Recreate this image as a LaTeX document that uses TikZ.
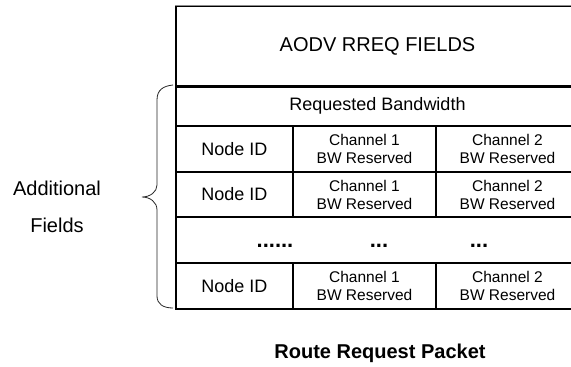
\documentclass[tikz,border=0pt]{standalone}
\usepackage{fontspec}
\setmainfont{Liberation Sans}
\begin{document}
\begin{tikzpicture}[x=1pt,y=-1pt,
  cellbox/.style={draw=black, line width=1.1pt, inner sep=0pt, align=center,
    font=\fontsize{15.5}{18}\selectfont},
  bigtext/.style={font=\fontsize{20}{24}\selectfont},
  midtext/.style={font=\fontsize{18}{22}\selectfont},
  dotstext/.style={inner sep=0pt, font=\fontsize{22}{24}\selectfont\bfseries},
  bracestyle/.style={draw=black!85, line width=0.8pt}]
\useasboundingbox (0,0) rectangle (571,367);
\clip (0,0) rectangle (571,367);
% header
\node[cellbox, bigtext, minimum width=403, minimum height=80] (aodv) at (377.5,46) {AODV RREQ FIELDS};
\node[cellbox, midtext, minimum width=403, minimum height=40] (rb) at (377.5,106) {Requested Bandwidth};
% row 1
\node[cellbox, midtext, minimum width=117, minimum height=46] (nida) at (234.5,149) {Node ID};
\node[cellbox, minimum width=143, minimum height=46] (chaa) at (364.5,149) {Channel 1\\BW Reserved};
\node[cellbox, minimum width=143, minimum height=46] (chba) at (507.5,149) {Channel 2\\BW Reserved};
% row 2
\node[cellbox, midtext, minimum width=117, minimum height=45] (nidb) at (234.5,194.5) {Node ID};
\node[cellbox, minimum width=143, minimum height=45] (chab) at (364.5,194.5) {Channel 1\\BW Reserved};
\node[cellbox, minimum width=143, minimum height=45] (chbb) at (507.5,194.5) {Channel 2\\BW Reserved};
% dots row
\node[cellbox, minimum width=403, minimum height=46] (dotrow) at (377.5,240) {};
\node[dotstext] (dota) at (275,245.5) {......};
\node[dotstext] (dotb) at (379,245.5) {...};
\node[dotstext] (dotc) at (479,245.5) {...};
% last row
\node[cellbox, midtext, minimum width=117, minimum height=46] (nidc) at (234.5,286) {Node ID};
\node[cellbox, minimum width=143, minimum height=46] (chac) at (364.5,286) {Channel 1\\BW Reserved};
\node[cellbox, minimum width=143, minimum height=46] (chbc) at (507.5,286) {Channel 2\\BW Reserved};
% top border grey, thick separator
\draw[line width=1.3pt, black!45] (aodv.north west) -- (aodv.north east);
\draw[line width=2pt, black] (aodv.south west) -- (aodv.south east);
% brace
\draw[bracestyle] (173,85) .. controls (163,86) and (157,90) .. (157,100)
  -- (157,185) .. controls (157,192) and (150,197) .. (142,197)
  .. controls (150,197) and (157,202) .. (157,210)
  -- (157,296) .. controls (157,304) and (163,308) .. (173,308);
\node[bigtext, align=center, font=\fontsize{20}{37}\selectfont] (addl) at (57,206.5) {Additional\\Fields};
% caption
\node[font=\fontsize{20}{24}\selectfont\bfseries] (cap) at (380,353) {Route Request Packet};
\end{tikzpicture}
\end{document}
